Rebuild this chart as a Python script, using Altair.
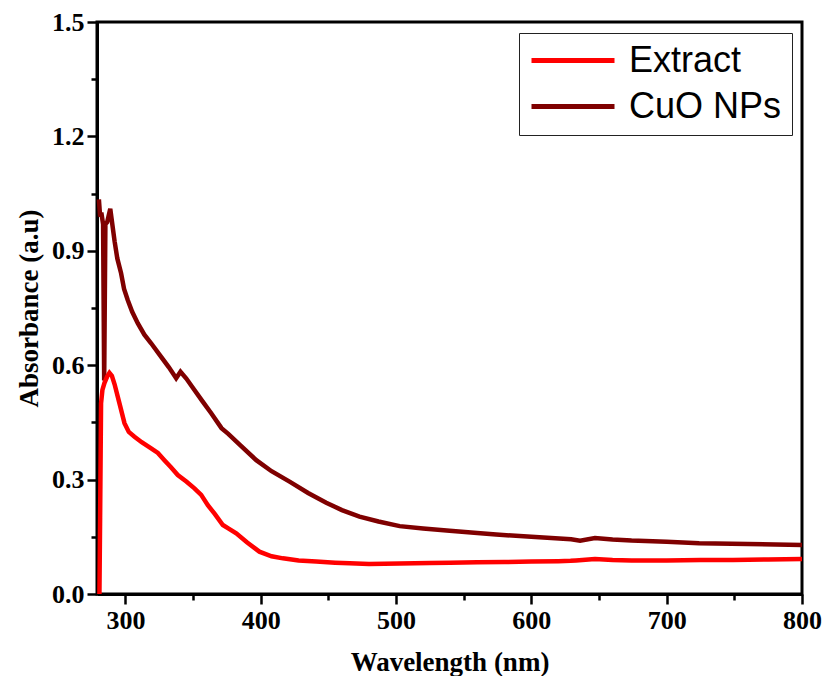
import altair as alt
import pandas as pd

# ---- data ----
extract_nm = [280.8, 281.3, 282.0, 283.0, 284.5, 286.5, 288.2, 290.0, 292.0, 295.6,
              299.3, 302.5, 306.7, 312.0, 319.0, 324.0, 328.8, 333.5, 338.7, 345.0,
              351.0, 356.0, 360.9, 366.0, 372.0, 376.0, 381.9, 390.0, 399.0, 408.0,
              416.4, 428.0, 441.0, 455.0, 465.7, 480.0, 502.7, 525.0, 540.0, 560.0,
              580.0, 600.0, 620.0, 629.0, 633.0, 640.0, 647.0, 660.0, 674.0, 700.0,
              725.0, 749.0, 775.0, 800.0]
extract_abs = [0.0, 0.2, 0.50, 0.535, 0.553, 0.57, 0.58, 0.572, 0.55, 0.50,
               0.448, 0.425, 0.4125, 0.398, 0.382, 0.37, 0.351, 0.333, 0.312, 0.295,
               0.277, 0.26, 0.233, 0.21, 0.181, 0.172, 0.159, 0.135, 0.111, 0.099,
               0.0935, 0.088, 0.085, 0.082, 0.0805, 0.079, 0.080, 0.081, 0.082, 0.083,
               0.084, 0.085, 0.086, 0.087, 0.088, 0.090, 0.0915, 0.089, 0.088, 0.088,
               0.089, 0.089, 0.0905, 0.092]

cuo_nm = [280.4, 281.3, 282.2, 283.5, 284.3, 285.2, 286.5, 288.8, 290.3, 292.0,
          294.0, 296.8, 299.0, 301.7, 305.0, 309.1, 314.0, 319.0, 326.4, 332.0,
          337.5, 340.7, 345.0, 351.0, 357.0, 363.4, 371.0, 376.0, 385.0, 396.7,
          408.0, 421.3, 435.0, 448.4, 460.0, 473.0, 487.0, 502.7, 520.0, 539.6,
          560.0, 574.0, 600.0, 629.4, 636.0, 647.0, 660.0, 674.0, 700.0, 724.0,
          760.0, 800.0]
cuo_abs = [1.035, 0.99, 1.0, 0.97, 0.56, 0.97, 0.975, 1.01, 0.97, 0.925,
           0.88, 0.841, 0.80, 0.771, 0.74, 0.71, 0.68, 0.6575, 0.622, 0.595,
           0.566, 0.583, 0.565, 0.535, 0.505, 0.474, 0.435, 0.42, 0.39, 0.351,
           0.322, 0.2946, 0.265, 0.2395, 0.22, 0.2028, 0.19, 0.178, 0.172, 0.166,
           0.160, 0.156, 0.150, 0.1435, 0.140, 0.147, 0.143, 0.140, 0.137, 0.133,
           0.131, 0.1285]

series_names = ["Extract", "CuO NPs"]
series_colors = ["#FF0000", "#7F0000"]

x_ticks = [300, 350, 400, 450, 500, 550, 600, 650, 700, 750, 800]
y_ticks = [0.0, 0.15, 0.3, 0.45, 0.6, 0.75, 0.9, 1.05, 1.2, 1.35, 1.5]

df_ext = pd.DataFrame({"Wavelength": extract_nm, "Absorbance": extract_abs, "Sample": series_names[0]})
df_cuo = pd.DataFrame({"Wavelength": cuo_nm, "Absorbance": cuo_abs, "Sample": series_names[1]})

SERIF = "Liberation Serif"

x_enc = alt.X(
    "Wavelength:Q",
    scale=alt.Scale(domain=[279, 800], nice=False, zero=False),
    axis=alt.Axis(
        values=x_ticks,
        title="Wavelength (nm)",
        labelExpr="datum.value % 100 == 0 ? datum.value : ''",
        tickSize={"condition": {"test": "datum.value % 100 == 0", "value": 10}, "value": 6},
        labelOverlap=False,
        labelFlush=False,
        labelPadding=3,
        titlePadding=16,
    ),
)
y_enc = alt.Y(
    "Absorbance:Q",
    scale=alt.Scale(domain=[0, 1.5], nice=False, zero=False),
    axis=alt.Axis(
        values=y_ticks,
        title="Absorbance (a.u)",
        labelExpr="abs(datum.value/0.3 - round(datum.value/0.3)) < 0.001 ? format(datum.value, '.1f') : ''",
        tickSize={"condition": {"test": "abs(datum.value/0.3 - round(datum.value/0.3)) < 0.001", "value": 10}, "value": 6},
        labelOverlap=False,
        labelFlush=False,
        labelPadding=3,
        titlePadding=8,
    ),
)
color_enc = alt.Color(
    "Sample:N",
    scale=alt.Scale(domain=series_names, range=series_colors),
    legend=alt.Legend(
        orient="none",
        legendX=422,
        legendY=11,
        title=None,
        symbolType="stroke",
        symbolSize=6889,
        symbolStrokeWidth=5,
        clipHeight=35,
        rowPadding=9,
        labelFont="Liberation Sans",
        labelFontSize=36,
        labelColor="black",
        labelOffset=12,
        labelLimit=0,
        padding=10,
        strokeColor="#222222",
        fillColor="white",
    ),
)

cuo = alt.Chart(df_cuo).mark_line(strokeWidth=4.5).encode(x=x_enc, y=y_enc, color=color_enc)
ext = alt.Chart(df_ext).mark_line(strokeWidth=4.5).encode(x=x_enc, y=y_enc, color=color_enc)

chart = (
    alt.layer(cuo, ext)
    .properties(
        width=705,
        height=572,
        autosize=alt.AutoSizeParams(type="none"),
        padding={"left": 97, "top": 22, "right": 21, "bottom": 82},
        background="white",
    )
    .configure_view(stroke="black", strokeWidth=3)
    .configure_axis(
        grid=False,
        domainColor="black",
        domainWidth=3,
        tickColor="black",
        tickWidth=2.5,
        labelFont=SERIF,
        labelFontWeight="bold",
        labelFontSize=26,
        labelColor="black",
        titleFont=SERIF,
        titleFontWeight="bold",
        titleFontSize=27,
        titleColor="black",
    )
)

chart.save("out.html", embed_options={"renderer": "svg", "actions": False})
